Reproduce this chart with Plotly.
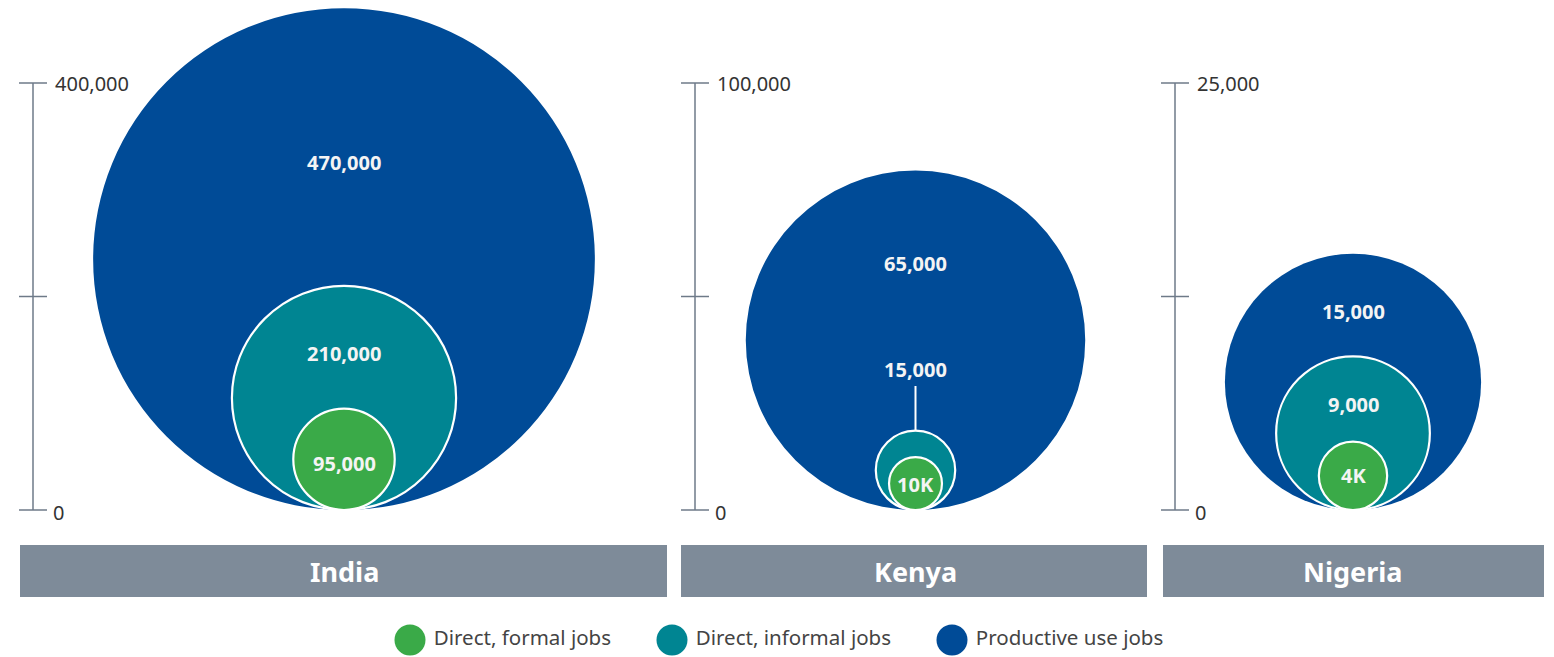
import plotly.graph_objects as go

# ---------------- data ----------------
countries = ["India", "Kenya", "Nigeria"]
series_names = ["Direct, formal jobs", "Direct, informal jobs", "Productive use jobs"]
labels_india = ["95,000", "210,000", "470,000"]
labels_kenya = ["10K", "15,000", "65,000"]
labels_nigeria = ["4K", "9,000", "15,000"]
# circle diameters in each panel's axis units, as drawn in the picture
size_india = [95000, 210000, 470000]
size_kenya = [12400, 18600, 79500]
size_nigeria = [4000, 9000, 15000]
scale_max = [400000, 100000, 25000]
scale_ticks = [["0", "400,000"], ["0", "100,000"], ["0", "25,000"]]

# ---------------- layout helpers ----------------
W, H = 1554, 657
BASE = 510          # pixel row of zero
TOP = 83            # pixel row of top tick
colors = ["#3aaa48", "#008592", "#004b97"]
bar_color = "#7e8b99"
axis_color = "#6e7a88"
FONT = "Noto Sans"

panel_px = [(0, 674), (674, 1155), (1155, 1554)]
center_px = [344, 915.5, 1353]
axis_px = [33, 695, 1175]
label_px = [[463, 353, 162], [484, 369, 263], [475, 404, 311]]
bar_px = [(20, 667), (681, 1147), (1163, 1544)]

sizes = [size_india, size_kenya, size_nigeria]
labels = [labels_india, labels_kenya, labels_nigeria]

fig = go.Figure()
shapes = []
annotations = []

for i, c in enumerate(countries):
    n = "" if i == 0 else str(i + 1)
    xr, yr = "x" + n, "y" + n
    k = scale_max[i] / (BASE - TOP)
    lo, hi = panel_px[i]
    cx = center_px[i]
    fig.update_layout(**{
        "xaxis" + n: dict(domain=[lo / W, hi / W], range=[(lo - cx) * k, (hi - cx) * k],
                          visible=False, fixedrange=True),
        "yaxis" + n: dict(domain=[0, 1], range=[-(H - BASE) * k, BASE * k],
                          visible=False, fixedrange=True, anchor=xr),
    })
    # scale axis with crossing ticks
    ax = (axis_px[i] - cx) * k
    half = 14 * k
    mid = scale_max[i] / 2
    xs = [ax, ax, None, ax - half, ax + half, None, ax - half, ax + half, None, ax - half, ax + half]
    ys = [0, scale_max[i], None, 0, 0, None, mid, mid, None, scale_max[i], scale_max[i]]
    fig.add_trace(go.Scatter(x=xs, y=ys, xaxis=xr, yaxis=yr, mode="lines",
                             line=dict(color=axis_color, width=1.5),
                             hoverinfo="skip", showlegend=False))
    annotations.append(dict(x=ax + 18 * k, y=0, xref=xr, yref=yr, text=scale_ticks[i][0],
                            showarrow=False, xanchor="left", yanchor="middle", yshift=-2,
                            font=dict(family=FONT, size=20, color="#333333")))
    annotations.append(dict(x=ax + 20 * k, y=scale_max[i], xref=xr, yref=yr, text=scale_ticks[i][1],
                            showarrow=False, xanchor="left", yanchor="middle",
                            font=dict(family=FONT, size=20, color="#333333")))
    # nested circles: largest first
    for j in [2, 1, 0]:
        d = sizes[i][j]
        shapes.append(dict(type="circle", xref=xr, yref=yr, x0=-d / 2, x1=d / 2, y0=0, y1=d,
                           fillcolor=colors[j],
                           line=dict(color="white", width=0 if j == 2 else 2.2)))
        annotations.append(dict(x=0, y=(BASE - label_px[i][j]) * k, xref=xr, yref=yr,
                                text="<b>" + labels[i][j] + "</b>", showarrow=False,
                                xanchor="center", yanchor="middle",
                                font=dict(family=FONT, size=20, color="#f4f4f4")))
    if c == "Kenya":
        shapes.append(dict(type="line", xref=xr, yref=yr, x0=0, x1=0,
                           y0=sizes[i][1], y1=(BASE - label_px[i][1] - 17) * k,
                           line=dict(color="white", width=2)))
    # country bar
    shapes.append(dict(type="rect", xref="paper", yref="paper",
                       x0=bar_px[i][0] / W, x1=bar_px[i][1] / W,
                       y0=(H - 597) / H, y1=(H - 545) / H,
                       fillcolor=bar_color, line=dict(width=0), layer="below"))
    annotations.append(dict(x=cx / W, y=(H - 571) / H, xref="paper", yref="paper",
                            text="<b>" + c + "</b>", showarrow=False,
                            xanchor="center", yanchor="middle",
                            font=dict(family=FONT, size=27, color="white")))

# legend drawn on a pixel overlay axis
fig.update_layout(
    xaxis4=dict(domain=[0, 1], range=[0, W], visible=False, fixedrange=True),
    yaxis4=dict(domain=[0, 1], range=[H, 0], visible=False, fixedrange=True, anchor="x4"),
)
legend_x = [410, 672, 952]
for j, name in enumerate(series_names):
    fig.add_trace(go.Scatter(x=[legend_x[j]], y=[640], xaxis="x4", yaxis="y4",
                             mode="markers+text", text=["\u2009" + name], textposition="middle right",
                             marker=dict(size=31, color=colors[j], line=dict(width=0)),
                             textfont=dict(family=FONT, size=20.5, color="#444444"),
                             hoverinfo="skip", showlegend=False))

fig.update_layout(
    width=W, height=H, autosize=False,
    margin=dict(l=0, r=0, t=0, b=0),
    paper_bgcolor="white", plot_bgcolor="rgba(0,0,0,0)",
    shapes=shapes, annotations=annotations, showlegend=False,
)
fig.write_html("out.html", config={"displayModeBar": False},
               post_script="document.body.style.margin='0';document.body.style.overflow='hidden';")
